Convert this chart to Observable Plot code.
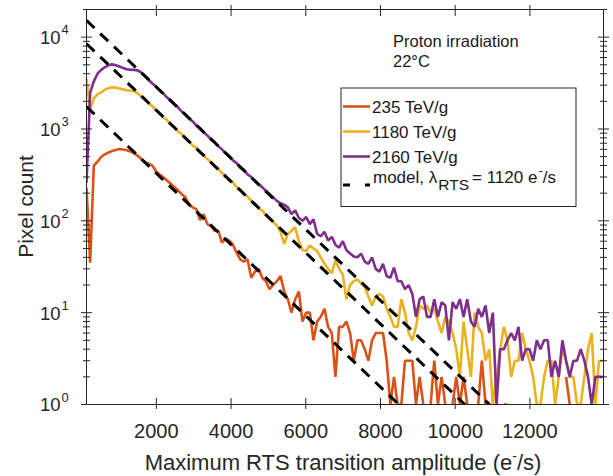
<!DOCTYPE html>
<html><head><meta charset="utf-8">
<script src="https://cdn.jsdelivr.net/npm/d3@7"></script>
<script src="https://cdn.jsdelivr.net/npm/@observablehq/plot@0.6"></script>
<style>
body{margin:0;background:#fff;}
#chart{width:613px;height:476px;}
</style></head><body><div id="chart"></div>
<script>
// ---- data ----
const binStart = 130, binWidth = 98;
const seriesNames = ["235 TeV/g", "1180 TeV/g", "2160 TeV/g"];
const seriesColors = ["#D95319", "#EDB120", "#7E2F8E"];

const counts235 = [
  230, 35, 400, 440, 495, 530, 555, 575, 592, 605,
  598, 588, 570, 545, 510, 470, 432, 420, 400, 345,
  320, 298, 275, 253, 232, 215, 195, 182, 150, 140,
  134, 102, 118, 92, 88, 78, 78, 58, 64, 61,
  55, 45, 38, 36, 38, 24, 28, 30, 24, 22,
  18, 20, 22, 25, 17, 14, 10, 14, 17, 8,
  10, 10, 5, 8, 9, 11, 7, 6, 2, 7,
  7, 8, 6, 3, 5, 5, 4, 3, 5, 6,
  6, 6, 3, 1, 2, 1, 1, 3, 3, 3,
  1, 2, 1, 0, 1, 3, 1, 2, 1, 0,
  1, 2, 1, 2, 1, 0, 0, 1, 3, 1,
  0, 0, 0, 0, 1, 1, 0, 0, 0, 0,
  0, 0, 0, 0, 0, 0, 0, 0, 0, 0,
  0, 2, 1, 0, 0, 0, 0, 0, 0, 0,
  0, 0
];
const counts1180 = [
  3500, 1650, 2150, 2380, 2500, 2680, 2780, 2850, 2820, 2760,
  2700, 2640, 2610, 2590, 2440, 2250, 2090, 1900, 1770, 1600,
  1490, 1340, 1250, 1120, 1050, 940, 880, 790, 740, 660,
  625, 555, 520, 468, 440, 392, 368, 330, 310, 276,
  262, 232, 218, 195, 184, 165, 154, 136, 130, 115,
  104, 97, 89, 76, 56, 72, 78, 85, 60, 48,
  47, 54, 50, 47, 40, 34, 30, 27, 37, 30,
  26, 14, 20, 22, 23, 21, 19, 15, 12, 15,
  16, 15, 11, 9, 7, 7, 14, 10, 6, 5,
  7, 12, 11, 12, 10, 11, 8, 6, 9, 8,
  6, 4, 2, 8, 4, 2, 10, 7, 6, 3,
  4, 1, 2, 4, 7, 5, 2, 3, 3, 6,
  4, 3, 2, 1, 1, 2, 3, 3, 1, 2,
  4, 3, 2, 2, 1, 1, 2, 4, 6, 1,
  3, 3
];
const counts2160 = [
  260, 2500, 3300, 4000, 4400, 4700, 4950, 5050, 4950, 4800,
  4600, 4480, 4420, 4400, 4350, 4100, 3760, 3420, 3130, 2900,
  2620, 2440, 2200, 2050, 1850, 1720, 1550, 1440, 1300, 1210,
  1090, 1020, 920, 850, 770, 720, 650, 600, 545, 505,
  455, 425, 380, 358, 320, 300, 272, 252, 232, 212,
  196, 180, 165, 155, 150, 140, 118, 130, 108, 100,
  110, 92, 104, 72, 68, 76, 61, 67, 55, 51,
  60, 48, 44, 41, 40, 44, 36, 34, 40, 30,
  28, 34, 25, 24, 31, 22, 22, 18, 20, 16,
  9, 14, 15, 9, 9, 14, 9, 13, 12, 5,
  13, 11, 14, 9, 14, 8, 7, 11, 9, 12,
  6, 10, 1, 4, 4, 5, 6, 5, 7, 3,
  4, 4, 3, 5, 4, 5, 5, 2, 3, 2,
  5, 3, 2, 3, 3, 4, 3, 2, 1, 2,
  2, 2
];

// model lines, lambda_RTS = 1120 e-/s (start at first bin, end where count = 1)
const lambdaRTS = 1120;
const modelStartX = 130;
const modelStartY = [1750, 8480, 15200];
const modelEndX = [8490, 10260, 10920];
const modelEndY = 1;

const xTicks = [2000, 4000, 6000, 8000, 10000, 12000];
const yMajor = [1, 10, 100, 1000, 10000];
const yMinor = [2,3,4,5,6,7,8,9, 20,30,40,50,60,70,80,90, 200,300,400,500,600,700,800,900,
                2000,3000,4000,5000,6000,7000,8000,9000, 20000];
const xDomain = [130, 13970];
const yDomain = [1, 20000];

// ---- build tables ----
const rows = [];
[counts235, counts1180, counts2160].forEach((arr, s) =>
  arr.forEach((c, i) => rows.push({series: seriesNames[s], x: binStart + i * binWidth, count: c})));
const modelRows = modelStartY.flatMap((y0, k) => [
  {k, x: modelStartX, y: y0}, {k, x: modelEndX[k], y: modelEndY}
]);

const axisColor = "#262626";
const font = "'Liberation Sans', Arial, Helvetica, sans-serif";

const plot = Plot.plot({
  width: 613, height: 476,
  marginLeft: 86, marginRight: 10, marginTop: 9, marginBottom: 72,
  style: {fontFamily: font, background: "white", color: axisColor},
  x: {domain: xDomain},
  y: {type: "log", domain: yDomain},
  color: {domain: seriesNames, range: seriesColors},
  marks: [
    Plot.line(rows, {x: "x", y: d => d.count > 0 ? d.count : NaN, z: "series", stroke: "series",
      strokeWidth: 2.6, strokeLinejoin: "miter", strokeLinecap: "butt", clip: true}),
    Plot.line(modelRows, {x: "x", y: "y", z: "k", stroke: "black", strokeWidth: 3,
      strokeDasharray: "11,8", strokeLinecap: "butt", clip: true}),
    Plot.frame({stroke: axisColor, strokeWidth: 1}),
    // x ticks (both directions), bottom and top
    Plot.axisX({anchor: "bottom", ticks: xTicks, tickSize: 11, dy: -6, tickFormat: () => "", label: null, stroke: axisColor}),
    Plot.axisX({anchor: "top", ticks: xTicks, tickSize: 11, dy: 6, tickFormat: () => "", label: null, stroke: axisColor}),
    Plot.axisX({anchor: "bottom", ticks: xTicks, tickSize: 0, tickPadding: 19.5, fontSize: 20,
      tickFormat: d => String(d), label: null, fill: axisColor}),
    // y ticks, left and right, major and minor
    Plot.axisY({anchor: "left", ticks: yMajor, tickSize: 11, dx: 6, tickFormat: () => "", label: null, stroke: axisColor}),
    Plot.axisY({anchor: "left", ticks: yMinor, tickSize: 7, dx: 4, tickFormat: () => "", label: null, stroke: axisColor}),
    Plot.axisY({anchor: "right", ticks: yMajor, tickSize: 11, dx: -6, tickFormat: () => "", label: null, stroke: axisColor}),
    Plot.axisY({anchor: "right", ticks: yMinor, tickSize: 7, dx: -4, tickFormat: () => "", label: null, stroke: axisColor}),
    // y tick labels 10^k
    Plot.text(yMajor, {y: d => d, frameAnchor: "left", text: () => "10", textAnchor: "end",
      dx: -26, dy: 1, fontSize: 18.5, fill: axisColor}),
    Plot.text(yMajor, {y: d => d, frameAnchor: "left", text: d => String(Math.round(Math.log10(d))),
      textAnchor: "start", dx: -25, dy: -7, fontSize: 13, fill: axisColor})
  ]
});
document.getElementById("chart").appendChild(plot);

const svg = d3.select(plot);
// axis labels
svg.append("text").attr("transform", "translate(33,206.5) rotate(-90)")
  .attr("text-anchor", "middle").attr("font-size", 21).attr("fill", axisColor)
  .attr("font-family", font).text("Pixel count");
const xl = svg.append("text").attr("x", 343).attr("y", 470).attr("text-anchor", "middle")
  .attr("font-size", 22).attr("fill", axisColor).attr("font-family", font);
xl.append("tspan").text("Maximum RTS transition amplitude (e");
xl.append("tspan").attr("font-size", 14).attr("dy", -9).text("-");
xl.append("tspan").attr("dy", 9).text("/s)");

// annotation
const ann = svg.append("g").attr("font-family", font).attr("font-size", 16.5)
  .attr("fill", "#1a1a1a").attr("text-anchor", "start");
ann.append("text").attr("x", 393).attr("y", 46.5).attr("text-anchor", "start").text("Proton irradiation");
ann.append("text").attr("x", 393).attr("y", 67).attr("text-anchor", "start").text("22°C");

// legend
const lg = svg.append("g").attr("font-family", font).attr("font-size", 17)
  .attr("fill", "#1a1a1a").attr("text-anchor", "start");
lg.append("rect").attr("x", 341).attr("y", 88).attr("width", 235).attr("height", 118.5)
  .attr("fill", "white").attr("stroke", axisColor).attr("stroke-width", 1);
const rowY = [106.5, 131.5, 156.5];
seriesNames.forEach((name, s) => {
  lg.append("line").attr("x1", 343).attr("x2", 370).attr("y1", rowY[s]).attr("y2", rowY[s])
    .attr("stroke", seriesColors[s]).attr("stroke-width", 2.6);
  lg.append("text").attr("x", 372).attr("y", rowY[s] + 6).attr("text-anchor", "start").text(name);
});
lg.append("line").attr("x1", 343).attr("x2", 370).attr("y1", 185).attr("y2", 185)
  .attr("stroke", "black").attr("stroke-width", 3).attr("stroke-dasharray", "7,15");
const mt = lg.append("text").attr("x", 373).attr("y", 183).attr("text-anchor", "start");
mt.append("tspan").text("model, λ");
mt.append("tspan").attr("font-size", 15.5).attr("dx", 1).attr("dy", 7).text("RTS");
mt.append("tspan").attr("dx", 3).attr("dy", -7).text(`= ${lambdaRTS} e`);
mt.append("tspan").attr("font-size", 13).attr("dx", 1).attr("dy", -8).text("-");
mt.append("tspan").attr("dy", 8).text("/s");
</script>
</body></html>
